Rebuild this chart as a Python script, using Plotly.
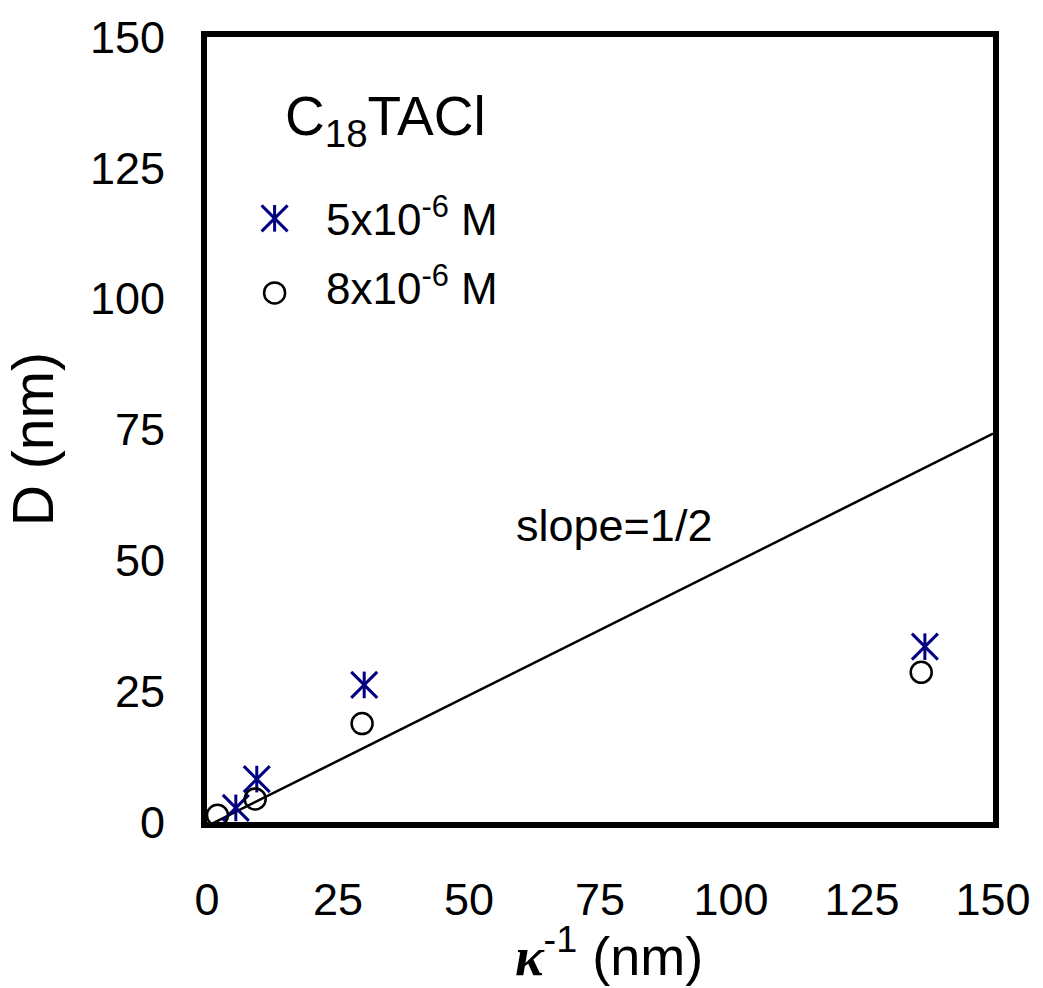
import plotly.graph_objects as go

# ---- data ----
x_5e6 = [5.5, 9.5, 30.0, 137.0]
y_5e6 = [2.7, 8.2, 26.2, 33.5]
x_8e6 = [2.0, 9.2, 29.6, 136.3]
y_8e6 = [1.3, 4.4, 18.8, 28.6]
line_x = [0, 150]
slope = 0.5
intercept = -0.8
line_y = [slope * v + intercept for v in line_x]
tick_vals = [0, 25, 50, 75, 100, 125, 150]
tick_text = ["0", "25", "50", "75", "100", "125", "150"]
label_5e6 = "5x10<sup>-6</sup> M"
label_8e6 = "8x10<sup>-6</sup> M"
legend_title = "C<sub>18</sub>TACl"

NAVY = "#000080"
FONT = "Liberation Sans, Arial, sans-serif"

fig = go.Figure()

fig.add_trace(go.Scatter(x=line_x, y=line_y, mode="lines",
                         line=dict(color="black", width=2.5), showlegend=False,
                         cliponaxis=True))

star_x = dict(symbol="x-thin-open", size=26, color=NAVY, line=dict(color=NAVY, width=3))
star_v = dict(symbol="line-ns-open", size=19, color=NAVY, line=dict(color=NAVY, width=3))
circ = dict(symbol="circle-open", size=21, color="black", line=dict(color="black", width=2.5))

# star (6-arm asterisk) = X + vertical line
fig.add_trace(go.Scatter(x=x_5e6, y=y_5e6, mode="markers", showlegend=False, marker=star_x))
fig.add_trace(go.Scatter(x=x_5e6, y=y_5e6, mode="markers", showlegend=False, marker=star_v))
fig.add_trace(go.Scatter(x=x_8e6, y=y_8e6, mode="markers", showlegend=False, marker=circ))

# manual legend markers on an overlay axis in [0,1] units
leg_x = [0.086, 0.086]
leg_y = [0.769, 0.674]
fig.add_trace(go.Scatter(x=[leg_x[0]], y=[leg_y[0]], mode="markers", showlegend=False,
                         xaxis="x2", yaxis="y2", marker=star_x))
fig.add_trace(go.Scatter(x=[leg_x[0]], y=[leg_y[0]], mode="markers", showlegend=False,
                         xaxis="x2", yaxis="y2", marker=star_v))
fig.add_trace(go.Scatter(x=[leg_x[1]], y=[leg_y[1]], mode="markers", showlegend=False,
                         xaxis="x2", yaxis="y2", marker=circ))

axis_common = dict(
    range=[0, 150], tickvals=tick_vals, ticktext=tick_text,
    showgrid=False, zeroline=False, showline=True, mirror=True,
    linecolor="black", linewidth=6, ticks="",
    tickfont=dict(family=FONT, size=45, color="black"),
)

fig.update_layout(
    width=1043, height=988,
    margin=dict(l=207, r=48, t=31, b=166),
    plot_bgcolor="white", paper_bgcolor="white",
    xaxis=dict(**axis_common, ticklabelstandoff=33),
    yaxis=dict(**axis_common, ticklabelstandoff=27),
    xaxis2=dict(range=[0, 1], overlaying="x", visible=False),
    yaxis2=dict(range=[0, 1], overlaying="y", visible=False),
    showlegend=False,
    annotations=[
        dict(text=legend_title, xref="paper", yref="paper", x=0.097, y=0.894,
             xanchor="left", yanchor="middle", showarrow=False,
             font=dict(family=FONT, size=55, color="black")),
        dict(text=label_5e6, xref="paper", yref="paper", x=0.149, y=0.771,
             xanchor="left", yanchor="middle", showarrow=False,
             font=dict(family=FONT, size=44, color="black")),
        dict(text=label_8e6, xref="paper", yref="paper", x=0.149, y=0.683,
             xanchor="left", yanchor="middle", showarrow=False,
             font=dict(family=FONT, size=44, color="black")),
        dict(text="slope=1/2", x=0.39, y=0.378, xref="paper", yref="paper",
             xanchor="left", yanchor="middle", showarrow=False,
             font=dict(family=FONT, size=45, color="black")),
        dict(text="D (nm)", xref="paper", yref="paper", x=-0.222, y=0.487,
             xanchor="center", yanchor="middle", textangle=-90, showarrow=False,
             font=dict(family=FONT, size=57, color="black")),
        dict(text="<span style=\"font-family:'Liberation Serif'\"><b><i>κ</i></b></span><sup>-1</sup> (nm)",
             xref="paper", yref="paper", x=0.511, y=-0.166,
             xanchor="center", yanchor="middle", showarrow=False,
             font=dict(family=FONT, size=54, color="black")),
    ],
)

fig.write_html("out.html")
